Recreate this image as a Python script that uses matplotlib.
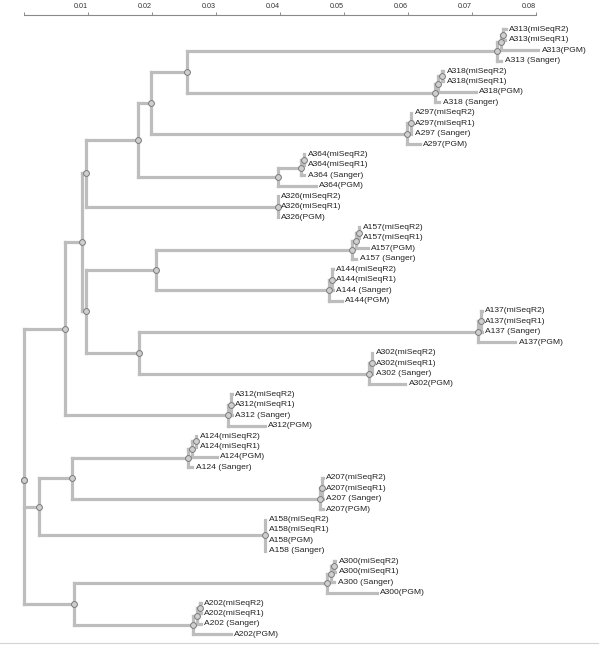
import matplotlib
matplotlib.use("Agg")
import matplotlib.pyplot as plt
import numpy as np

# backbone of the tree (newick, branch lengths in substitutions/site)
backbone = ("((((((((A313:0.0485,A318:0.0388):0.0056,A297:0.0401):0.0020,A364:0.0219):0.0082,"
            "A326:0.0300):0.0006,((A157:0.0306,A144:0.0271):0.0110,(A137:0.0529,A302:0.0359):0.0084)"
            ":0.0006):0.0027,A312:0.0255):0.0063,((A124:0.0182,A207:0.0388):0.0051,A158:0.0354):0.0023,"
            "(A300:0.0396,A202:0.0187):0.0077);")

# sub-trees of the four sequencing runs for every sample
sample_names = ["A313", "A318", "A297", "A364", "A326", "A157", "A144", "A137",
                "A302", "A312", "A124", "A207", "A158", "A300", "A202"]
sample_trees = [
    "(((R2:0.0004,R1:0.0003):0.0004,PGM:0.0059):0.0006,Sanger:0.0007)",
    "(((R2:0.0002,R1:0.0002):0.0006,PGM:0.0059):0.0005,Sanger:0.0007)",
    "((R2:0.0001,R1:0.0001,Sanger:0.0001):0.0005,PGM:0.0019)",
    "(((R2:0.0001,R1:0.0001):0.0005,Sanger:0.0006):0.0035,PGM:0.0059)",
    "(R2:0.0,R1:0.0,PGM:0.0)",
    "(((R2:0.0001,R1:0.0001):0.0005,PGM:0.0019):0.0006,Sanger:0.0007)",
    "((R2:0.0001,R1:0.0001,Sanger:0.0001):0.0004,PGM:0.0019)",
    "((R2:0.0001,R1:0.0001,Sanger:0.0001):0.0005,PGM:0.0059)",
    "((R2:0.0001,R1:0.0001,Sanger:0.0001):0.0004,PGM:0.0057)",
    "((R2:0.0001,R1:0.0001,Sanger:0.0001):0.0005,PGM:0.0058)",
    "(((R2:0.0001,R1:0.0001):0.0006,PGM:0.0039):0.0006,Sanger:0.0007)",
    "((R2:0.0001,R1:0.0001,Sanger:0.0001):0.0004,PGM:0.0005)",
    "(R2:0.0,R1:0.0,PGM:0.0,Sanger:0.0)",
    "(((R2:0.0001,R1:0.0001):0.0006,Sanger:0.0006):0.0006,PGM:0.0078)",
    "(((R2:0.0001,R1:0.0001):0.0005,Sanger:0.0006):0.0006,PGM:0.0059)",
]
run_suffix = {"R2": "(miSeqR2)", "R1": "(miSeqR1)", "PGM": "(PGM)", "Sanger": " (Sanger)"}

scale_ticks = [0, 0.01, 0.02, 0.03, 0.04, 0.05, 0.06, 0.07, 0.08]


def parse(s):
    pos = 0

    def node():
        nonlocal pos
        children = []
        if s[pos] == "(":
            pos += 1
            children.append(node())
            while s[pos] == ",":
                pos += 1
                children.append(node())
            pos += 1
        start = pos
        while pos < len(s) and s[pos] not in ",();":
            pos += 1
        name, _, length = s[start:pos].partition(":")
        return {"name": name, "len": float(length) if length else 0.0, "children": children}

    return node()


tree = parse(backbone)
subtrees = {n: parse(t) for n, t in zip(sample_names, sample_trees)}


def attach(nd, sample=None):
    # swap backbone leaves for the per-sample sub-trees
    if not nd["children"] and sample is None and nd["name"] in subtrees:
        sub = subtrees[nd["name"]]
        sub["len"] = nd["len"]
        attach(sub, nd["name"])
        return sub
    if sample is not None and not nd["children"]:
        nd["label"] = sample + run_suffix[nd["name"]]
    nd["children"] = [attach(c, sample) for c in nd["children"]]
    return nd


tree = attach(tree)

leaf_count = [0]


def layout(nd, x0):
    nd["x"] = x0 + nd["len"]
    if not nd["children"]:
        nd["y"] = leaf_count[0]
        leaf_count[0] += 1
    else:
        for c in nd["children"]:
            layout(c, nd["x"])
        nd["y"] = np.mean([c["y"] for c in nd["children"]])


tree["len"] = 0.0
layout(tree, 0.0)

fig = plt.figure(figsize=(6.05, 6.49), dpi=100)
ax = fig.add_axes([0, 0, 1, 1])

line_col = "#bdbdbd"
lw = 2.3


def draw(nd):
    if not nd["children"]:
        ax.annotate(nd["label"], (nd["x"], nd["y"]), xytext=(3.5, 0), textcoords="offset pixels",
                    ha="left", va="center", fontsize=6.1, family="Liberation Sans", color="#222222",
                    zorder=5)
        return
    ys = [c["y"] for c in nd["children"]]
    ax.plot([nd["x"], nd["x"]], [min(ys), max(ys)], color=line_col, lw=lw,
            solid_capstyle="projecting", zorder=1)
    for c in nd["children"]:
        if c["x"] > nd["x"]:
            ax.plot([nd["x"], c["x"]], [c["y"], c["y"]], color=line_col, lw=lw,
                    solid_capstyle="projecting", zorder=1)
        draw(c)
    ax.plot(nd["x"], nd["y"], "o", ms=4.2, mfc="#cfcfcf", mec="#7a7a7a", mew=0.7, zorder=3)


draw(tree)

# pixel mapping of the original: 0 at x=24.3 px, 0.01 = 63.96 px; leaves 10.43 px apart
ax.set_xlim(-0.0038, 0.0908)
ax.set_ylim(59.41, -2.81)

for side in ["left", "right"]:
    ax.spines[side].set_visible(False)
ax.spines["top"].set_position(("data", -1.37))
ax.spines["top"].set_bounds(0, 0.08)
ax.spines["top"].set_color("#8a8a8a")
ax.spines["top"].set_linewidth(0.8)
ax.spines["bottom"].set_position(("data", 58.81))
ax.spines["bottom"].set_bounds(-0.0038, 0.0897)
ax.spines["bottom"].set_color("#d4d4d4")
ax.spines["bottom"].set_linewidth(0.8)

ax.xaxis.tick_top()
ax.set_xticks(scale_ticks)
ax.set_xticklabels(["" if t == 0 else f"{t:.2f}" for t in scale_ticks])
ax.tick_params(axis="x", direction="out", length=2.5, width=0.7, color="#8a8a8a",
               pad=1.0, labelsize=5.2, labelcolor="#333333")
for lab in ax.get_xticklabels():
    lab.set_horizontalalignment("right")
    lab.set_family("Liberation Sans")
ax.tick_params(axis="x", bottom=False)
ax.set_yticks([])

plt.savefig("out.png", dpi=100)
